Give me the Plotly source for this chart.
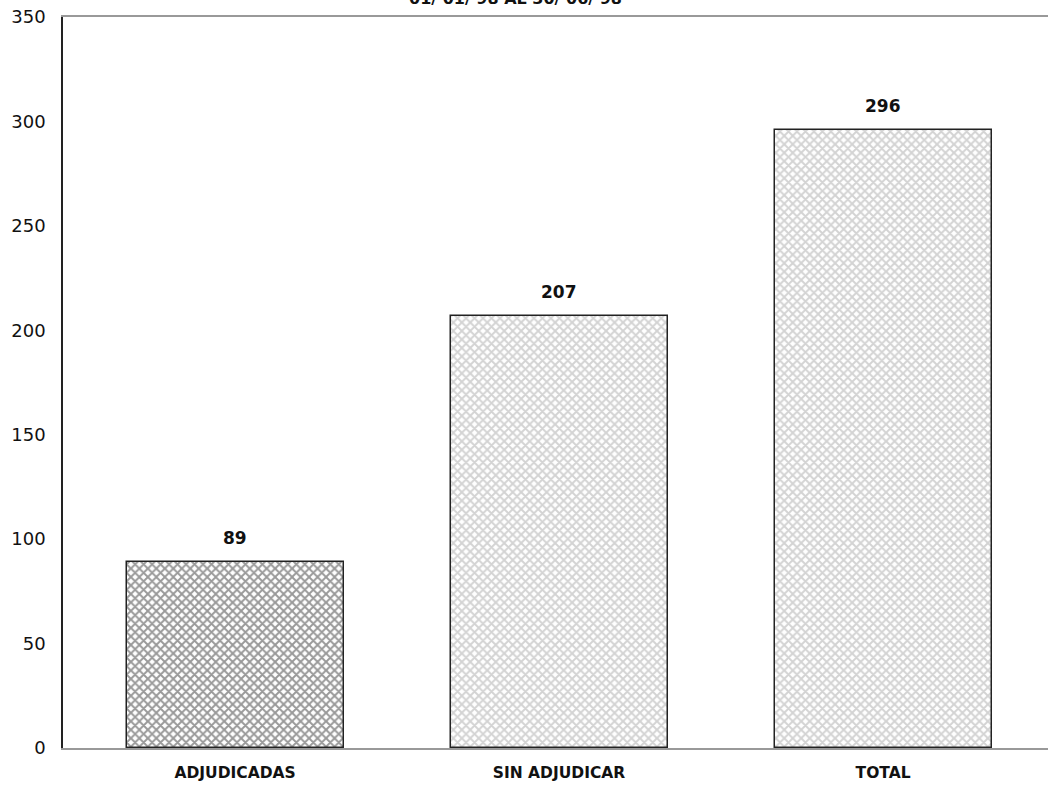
import plotly.graph_objects as go

categories = ["ADJUDICADAS", "SIN ADJUDICAR", "TOTAL"]
values = [89, 207, 296]
title_text = "01/ 01/ 98 AL 30/ 06/ 98"
y_ticks = [0, 50, 100, 150, 200, 250, 300, 350]

fig = go.Figure()
fig.add_trace(go.Bar(
    x=categories,
    y=values,
    width=0.67,
    marker=dict(
        color="white",
        line=dict(color="#222222", width=1.5),
        pattern=dict(
            shape="x",
            fgcolor=["#333333", "#a8a8a8", "#a8a8a8"],
            bgcolor="white",
            size=6,
            solidity=0.55,
        ),
    ),
    showlegend=False,
    hoverinfo="skip",
))

for c, v in zip(categories, values):
    fig.add_annotation(
        x=c, y=v, text=f"<b>{v}</b>", showarrow=False,
        yanchor="bottom", yshift=12,
        font=dict(family="DejaVu Sans", size=17, color="#111111"),
    )

fig.add_annotation(
    xref="paper", yref="paper", x=0.459, y=1, yanchor="bottom", yshift=7,
    text=f"<b>{title_text}</b>", showarrow=False,
    font=dict(family="DejaVu Sans", size=16, color="#111111"),
)

fig.update_layout(
    width=1048, height=788,
    margin=dict(l=63, r=0, t=17, b=40),
    plot_bgcolor="white", paper_bgcolor="white",
    bargap=0,
    xaxis=dict(
        range=[-0.531, 2.509],
        showline=True, mirror=True, linecolor="#999999", linewidth=1.5,
        showgrid=False, zeroline=False,
        ticks="outside", ticklen=10, tickcolor="rgba(0,0,0,0)",
        tickfont=dict(family="DejaVu Sans", size=15.5, color="#111111"),
        tickprefix="<b>", ticksuffix="</b>",
    ),
    yaxis=dict(
        range=[0, 350],
        tickvals=y_ticks,
        showline=True, linecolor="#222222", linewidth=1.5,
        showgrid=False, zeroline=False,
        ticks="outside", ticklen=12, tickcolor="rgba(0,0,0,0)",
        tickfont=dict(family="DejaVu Sans", size=18, color="#111111"),
    ),
)

fig.write_html("out.html", config={"displayModeBar": False},
               post_script="document.body.style.margin='0';")
